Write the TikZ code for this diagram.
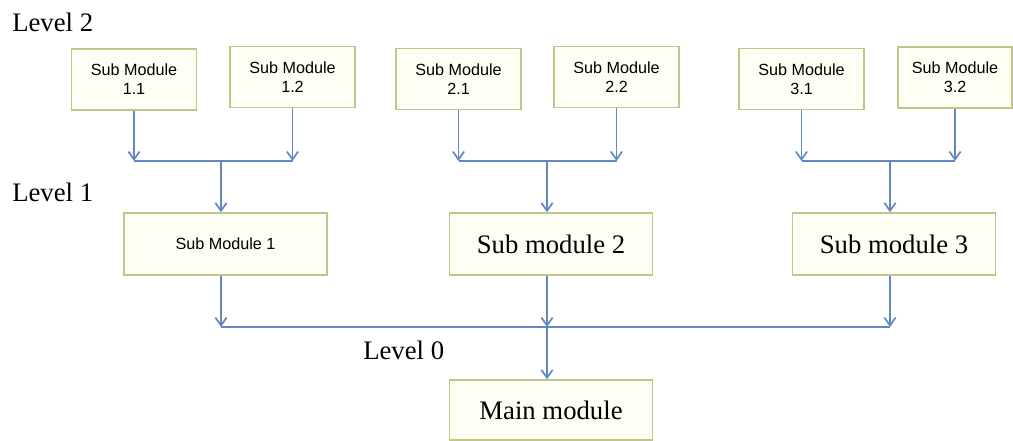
\documentclass[tikz,border=0pt]{standalone}
\usepackage{fontspec}
\setmainfont{Liberation Serif}
\setsansfont{Liberation Sans}
\usepackage{tikz}
\usetikzlibrary{arrows.meta,positioning,calc}
\definecolor{modedge}{RGB}{192,198,138}
\definecolor{modfill}{RGB}{254,254,244}
\definecolor{modlink}{RGB}{98,136,194}
\tikzset{
  mod/box/.style={draw=modedge, fill=modfill, line width=1pt, align=center, inner sep=2pt},
  mod/leaf/.style={mod/box, minimum width=31.3mm, minimum height=15.3mm,
    font=\sffamily\fontsize{11.5}{13.5}\selectfont},
  mod/mid/.style={mod/box, minimum width=50.7mm, minimum height=15.5mm,
    font=\fontsize{19}{22}\selectfont},
  mod/level/.style={anchor=west, inner sep=0pt, font=\fontsize{19}{22}\selectfont},
  mod/line/.style={draw=modlink, line width=1.4pt},
  mod/arrow/.style={mod/line, -{Straight Barb[length=2mm,width=2.8mm,line width=1.2pt]}}
}

\begin{document}
\begin{tikzpicture}[x=0.25mm, y=-0.25mm]
  \useasboundingbox (0,0) rectangle (1013,441);

  % level labels
  \node[mod/level] (lv2) at (12,22) {Level 2};
  \node[mod/level] (lv1) at (12,192) {Level 1};
  \node[mod/level] (lv0) at (363,350) {Level 0};

  % level 2 boxes
  \node[mod/leaf] (m11) at (134,79.5) {Sub Module\\1.1};
  \node[mod/leaf] (m12) at (292.5,77) {Sub Module\\1.2};
  \node[mod/leaf] (m21) at (458.5,79) {Sub Module\\2.1};
  \node[mod/leaf] (m22) at (616.5,77) {Sub Module\\2.2};
  \node[mod/leaf] (m31) at (801.5,79) {Sub Module\\3.1};
  \node[mod/leaf, minimum width=28.5mm] (m32) at (955,77.5) {Sub Module\\3.2};

  % level 1 boxes
  \node[mod/mid, font=\sffamily\fontsize{11.5}{13.5}\selectfont] (m1) at (225.5,244) {Sub Module 1};
  \node[mod/mid] (m2) at (551,244) {Sub module 2};
  \node[mod/mid] (m3) at (894,244) {Sub module 3};

  % level 0 box
  \node[mod/mid, minimum height=15mm] (main) at (551,410) {Main module};

  % junctions on the bars
  \coordinate (j1) at (221,161);
  \coordinate (j2) at (547,161);
  \coordinate (j3) at (890,161);
  \coordinate (j0) at (547,327);

  % level 2 -> level 1
  \foreach \a/\b/\j/\c in {m11/m12/j1/m1, m21/m22/j2/m2, m31/m32/j3/m3}{
    \draw[mod/arrow] (\a.south) -- (\a.south |- \j);
    \draw[mod/arrow] (\b.south) -- (\b.south |- \j);
    \draw[mod/line] (\a.south |- \j) -- (\b.south |- \j);
    \draw[mod/arrow] (\j) -- (\j |- \c.north);
  }

  % level 1 -> level 0
  \draw[mod/arrow] (j1 |- m1.south) -- (j1 |- j0);
  \draw[mod/arrow] (j2 |- m2.south) -- (j0);
  \draw[mod/arrow] (j3 |- m3.south) -- (j3 |- j0);
  \draw[mod/line] (j1 |- j0) -- (j3 |- j0);
  \draw[mod/arrow] (j0) -- (j0 |- main.north);
\end{tikzpicture}
\end{document}
